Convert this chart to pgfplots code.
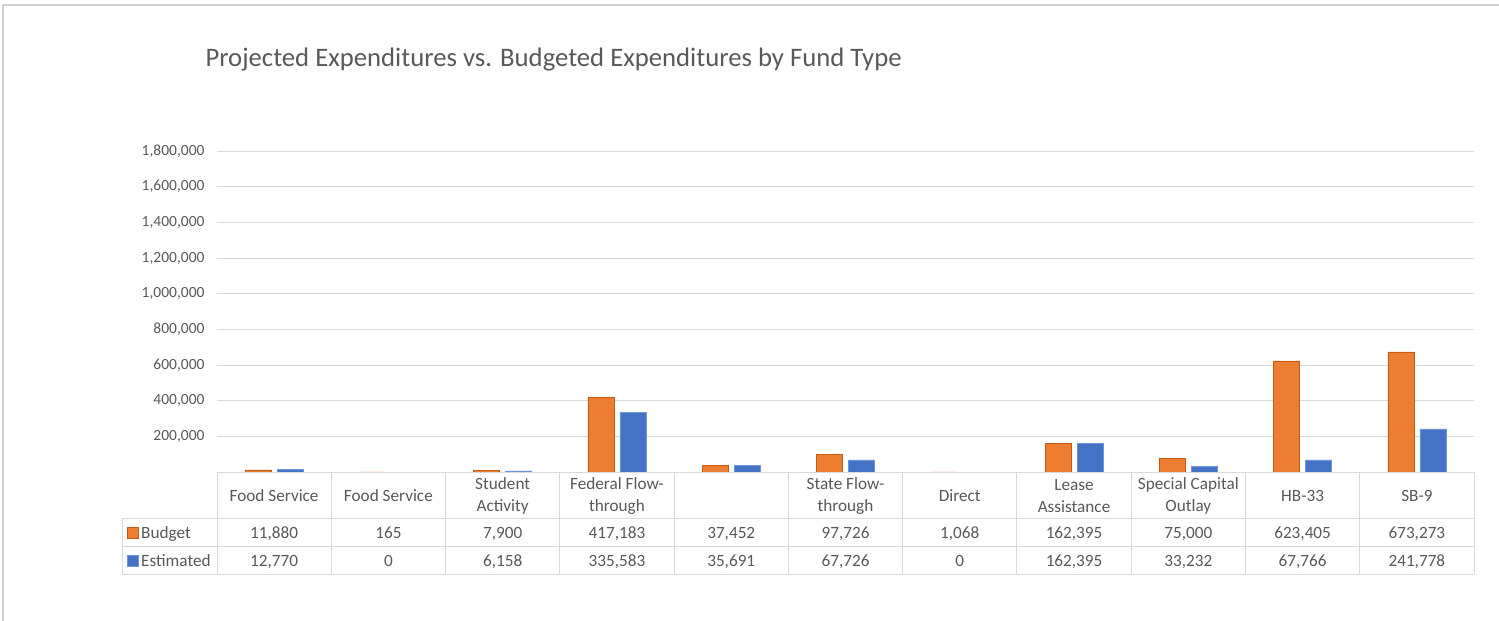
\documentclass[border=0pt]{standalone}
\usepackage{pgfplots}
\pgfplotsset{compat=1.18}
\usepackage{fontspec}
\setmainfont{Carlito}
\definecolor{txt}{HTML}{595959}
\definecolor{gridc}{HTML}{D9D9D9}
\definecolor{orng}{HTML}{ED7D31}
\definecolor{orngd}{HTML}{C55A11}
\definecolor{blu}{HTML}{4472C4}
\definecolor{blul}{HTML}{6F95D8}
\definecolor{frame}{HTML}{D0D0D0}
\begin{document}
\begin{tikzpicture}[x=1pt,y=1pt]
\useasboundingbox (0,0) rectangle (1499,-621);
\fill[white] (0,0) rectangle (1499,-621);
\draw[frame, line width=1.2pt] (3,-700) -- (3,-5) -- (1600,-5);
\node[anchor=west, text=txt, font=\fontsize{26.7}{32}\selectfont] at (202,-60) {Projected Expenditures vs. Budgeted Expenditures by Fund Type};
\begin{axis}[
  at={(217pt,-472pt)}, anchor=south west,
  scale only axis, width=1257pt, height=321pt,
  xmin=-0.5, xmax=10.5, ymin=0, ymax=1800000,
  ybar=6pt, bar width=26pt,
  axis line style={draw=none},
  xtick=\empty,
  ytick={200000,400000,600000,800000,1000000,1200000,1400000,1600000,1800000},
  ymajorgrids, grid style={gridc, line width=1pt},
  major tick length=0pt,
  scaled y ticks=false,
  /pgf/number format/assume math mode=true,
  yticklabel={\pgfmathprintnumber[fixed,1000 sep={,}]{\tick}},
  yticklabel style={text=txt, font=\fontsize{15.5}{18}\selectfont, xshift=-9pt},
  clip=false,
]
\addplot[fill=orng, draw=orngd, line width=0.6pt] coordinates {
 (0,11880) (1,165) (2,7900) (3,417183) (4,37452) (5,97726) (6,1068) (7,162395) (8,75000) (9,623405) (10,673273)};
\addplot[fill=blu, draw=blul, line width=0.6pt] coordinates {
 (0,12770) (1,0) (2,6158) (3,335583) (4,35691) (5,67726) (6,0) (7,162395) (8,33232) (9,67766) (10,241778)};
\end{axis}
% data table
\draw[gridc, line width=1pt] (217,-472) -- (1474,-472);
\draw[gridc, line width=1pt] (122,-518) -- (1474,-518);
\draw[gridc, line width=1pt] (122,-546) -- (1474,-546);
\draw[gridc, line width=1pt] (122,-574) -- (1474,-574);
\draw[gridc, line width=1pt] (122,-518) -- (122,-574);
\foreach \k in {0,...,11} {\draw[gridc, line width=1pt] ({217+114.2727*\k},-472) -- ({217+114.2727*\k},-574);}
\begin{scope}[every node/.style={text=txt, font=\fontsize{17.2}{22}\selectfont, align=center}]
\node at ({217+114.2727*0.5},-496) {Food Service};
\node at ({217+114.2727*1.5},-496) {Food Service};
\node at ({217+114.2727*2.5},-496) {Student\\Activity};
\node at ({217+114.2727*3.5},-496) {Federal Flow-\\through};
\node at ({217+114.2727*5.5},-496) {State Flow-\\through};
\node at ({217+114.2727*6.5},-496) {Direct};
\node at ({217+114.2727*7.5},-496) {Lease\\Assistance};
\node at ({217+114.2727*8.5},-496) {Special Capital\\Outlay};
\node at ({217+114.2727*9.5},-496) {HB-33};
\node at ({217+114.2727*10.5},-496) {SB-9};
\end{scope}
\begin{scope}[every node/.style={text=txt, font=\fontsize{17.2}{22}\selectfont, anchor=base, inner sep=0pt}]
\node at ({217+114.2727*0.5},-538) {11,880};
\node at ({217+114.2727*1.5},-538) {165};
\node at ({217+114.2727*2.5},-538) {7,900};
\node at ({217+114.2727*3.5},-538) {417,183};
\node at ({217+114.2727*4.5},-538) {37,452};
\node at ({217+114.2727*5.5},-538) {97,726};
\node at ({217+114.2727*6.5},-538) {1,068};
\node at ({217+114.2727*7.5},-538) {162,395};
\node at ({217+114.2727*8.5},-538) {75,000};
\node at ({217+114.2727*9.5},-538) {623,405};
\node at ({217+114.2727*10.5},-538) {673,273};
\node at ({217+114.2727*0.5},-566) {12,770};
\node at ({217+114.2727*1.5},-566) {0};
\node at ({217+114.2727*2.5},-566) {6,158};
\node at ({217+114.2727*3.5},-566) {335,583};
\node at ({217+114.2727*4.5},-566) {35,691};
\node at ({217+114.2727*5.5},-566) {67,726};
\node at ({217+114.2727*6.5},-566) {0};
\node at ({217+114.2727*7.5},-566) {162,395};
\node at ({217+114.2727*8.5},-566) {33,232};
\node at ({217+114.2727*9.5},-566) {67,766};
\node at ({217+114.2727*10.5},-566) {241,778};
\node[anchor=base west] at (141,-538) {Budget};
\node[anchor=base west] at (141,-566) {Estimated};
\end{scope}
\filldraw[fill=orng, draw=orngd, line width=0.6pt] (127,-527) rectangle (138,-538);
\filldraw[fill=blu, draw=blul, line width=0.6pt] (127,-555) rectangle (138,-566);
\end{tikzpicture}
\end{document}
